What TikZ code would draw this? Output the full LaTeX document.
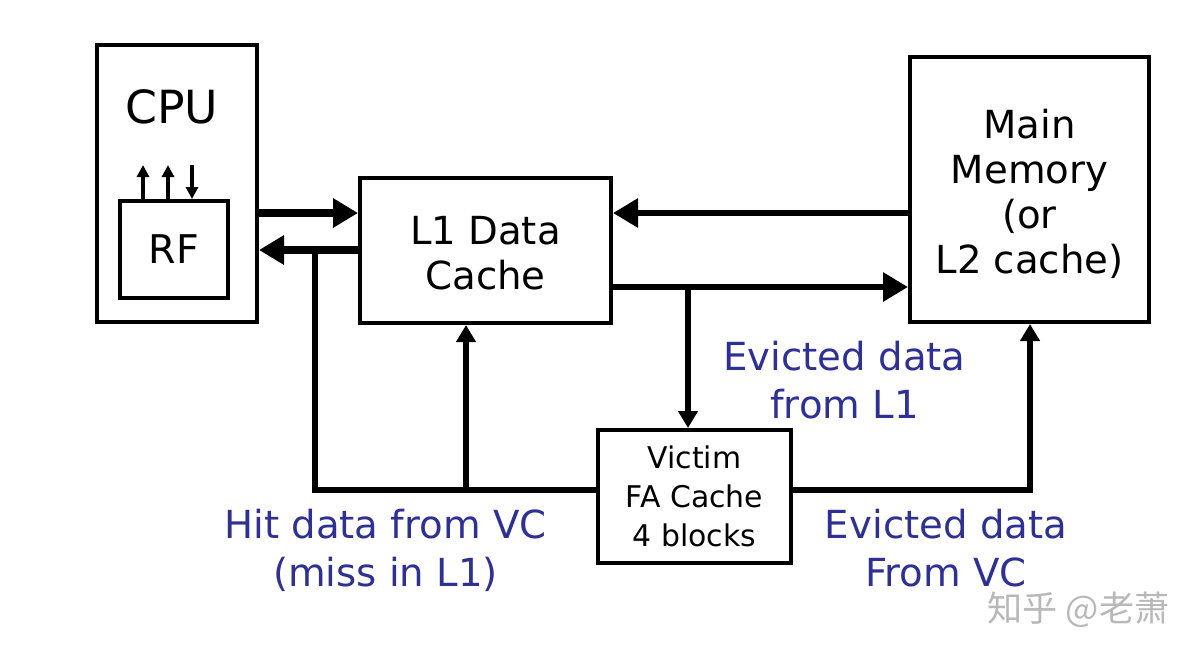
\documentclass[tikz,border=0pt]{standalone}
\usepackage{fontspec}
\setmainfont{DejaVu Sans}
\newfontfamily\cjkfont{Noto Sans CJK SC}
\usetikzlibrary{arrows.meta}
\definecolor{labelblue}{RGB}{46,49,146}

\begin{document}
\begin{tikzpicture}[line width=0.08cm,
    box/.style={rectangle, draw, align=center, inner sep=0pt},
    bus/.style={line width=0.12cm},
    wide bus/.style={line width=0.16cm},
    bigtip/.style={-{Triangle[length=0.5cm, width=0.56cm]}},
    smalltip/.style={-{Triangle[length=0.34cm, width=0.38cm]}},
    tinytip/.style={line width=0.065cm, -{Triangle[length=0.24cm, width=0.24cm]}},
    note/.style={text=labelblue, align=center, font=\fontsize{22}{27.3}\selectfont}
    ]
    \useasboundingbox (0,0) rectangle (24.08,-13.24);
    \node[box, minimum width=3.2cm, minimum height=5.54cm] (cpu) at (3.54,-3.67) {};
    \node[font=\fontsize{26}{30}\selectfont] (cputxt) at (3.44,-2.13) {CPU};
    \node[box, minimum width=2.16cm, minimum height=1.94cm,
      font=\fontsize{22.5}{26}\selectfont] (rf) at (3.48,-4.99) {RF};
    \node[box, minimum width=5.02cm, minimum height=2.9cm,
      font=\fontsize{22}{25.6}\selectfont] (l1) at (9.71,-5.01) {};
    \node[align=center, font=\fontsize{22}{25.6}\selectfont] (l1txt) at (9.71,-5.07) {L1 Data\\Cache};
    \node[box, minimum width=4.78cm, minimum height=5.3cm] (mem) at (20.59,-3.79) {};
    \node[align=center, font=\fontsize{22}{25.6}\selectfont] (memtxt) at (20.59,-3.88) {Main\\Memory\\(or\\L2 cache)};
    \node[box, minimum width=3.86cm, minimum height=2.66cm,
      font=\fontsize{17}{22.2}\selectfont] (vc) at (13.89,-9.93) {Victim\\FA Cache\\4 blocks};

    \coordinate (rfa) at (2.86,-3.3);
    \coordinate (rfb) at (3.36,-3.3);
    \coordinate (rfc) at (3.84,-3.3);
    \draw[tinytip] (rfa |- rf.north) -- (rfa);
    \draw[tinytip] (rfb |- rf.north) -- (rfb);
    \draw[tinytip] (rfc) -- (rfc |- rf.north);

    \coordinate (upper) at (0,-4.26);
    \coordinate (middle) at (0,-5.0);
    \coordinate (lower) at (0,-5.74);
    \coordinate (split) at (13.76,-5.74);
    \coordinate (hit) at (6.3,-9.8);
    \coordinate (fill) at (9.32,-9.8);
    \coordinate (out) at (20.6,-9.8);

    \draw[wide bus, bigtip] (cpu.east |- upper) -- (l1.west |- upper);
    \draw[wide bus, bigtip] (l1.west |- middle) -- (cpu.east |- middle);
    \draw[bus, bigtip] (mem.west |- upper) -- (l1.east |- upper);
    \draw[bus, bigtip] (l1.east |- lower) -- (mem.west |- lower);
    \draw[bus, smalltip] (split) -- (split |- vc.north);
    \draw[bus] (vc.west |- hit) -- (hit) -- (hit |- middle);
    \draw[bus, smalltip] (fill) -- (fill |- l1.south);
    \draw[bus, smalltip] (vc.east |- out) -- (out) -- (out |- mem.south);

    \node[note] (fromlone) at (16.89,-7.6) {Evicted data\\from L1};
    \node[note] (hitnote) at (7.71,-11.0) {Hit data from VC\\(miss in L1)};
    \node[note] (fromvc) at (18.92,-10.96) {Evicted data\\From VC};
    \node[text=black!28, font=\cjkfont\fontsize{20}{24}\selectfont] (mark) at (21.57,-12.2) {知乎 @老萧};
\end{tikzpicture}
\end{document}
